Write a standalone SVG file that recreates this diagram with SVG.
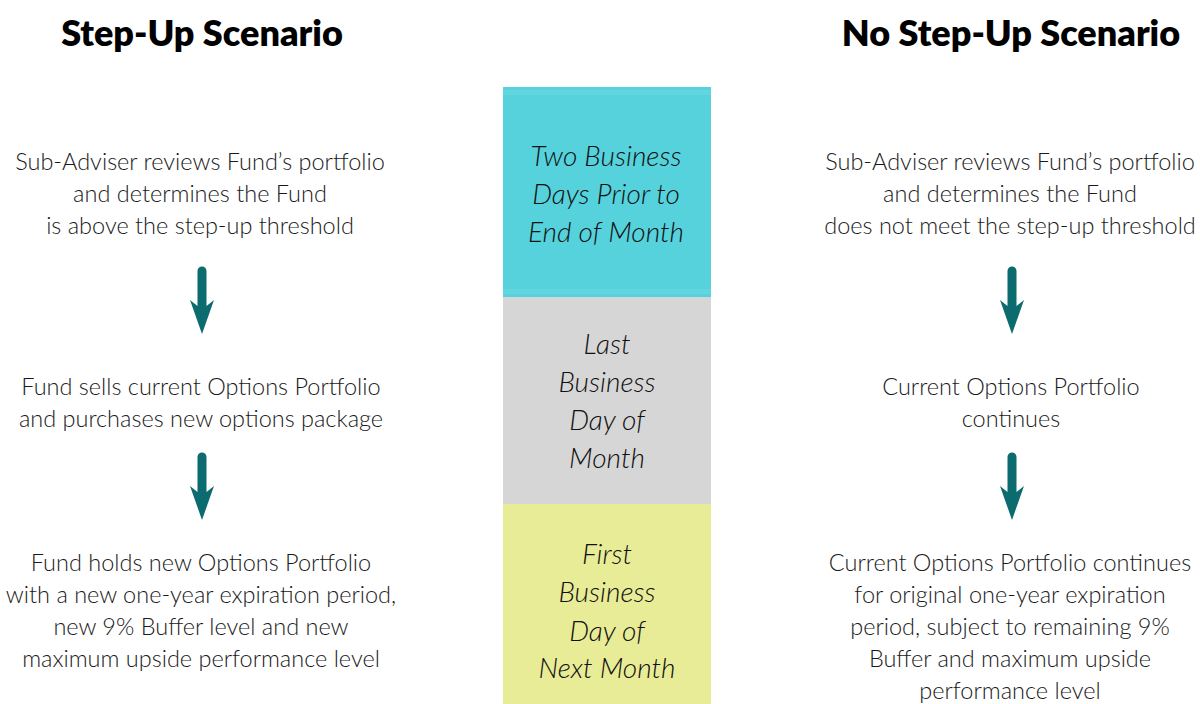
<svg xmlns="http://www.w3.org/2000/svg" width="1200" height="704" viewBox="0 0 1200 704">
<defs>
<style>
.title{font-family:Lato,"Open Sans",sans-serif;font-weight:800;font-size:36px;fill:#000;text-anchor:middle}
.body{font-family:Lato,"Open Sans",sans-serif;font-weight:300;font-size:23.5px;fill:#1a1a1a;text-anchor:middle}
.mid{font-family:Lato,"Open Sans",sans-serif;font-weight:300;font-style:italic;font-size:28px;fill:#111;text-anchor:middle}
.arrow{fill:#0b6b6e}
</style>
<path id="arr" class="arrow" d="M-4.5,4 A4.5,4.5 0 0 1 4.5,4 L4.5,39 L12,33 L0,67 L-12,33 L-4.5,39 Z"/>
</defs>
<rect width="1200" height="704" fill="#fff"/>

<g id="title-left"><text class="title" x="202" y="46">Step-Up Scenario</text></g>
<g id="title-right"><text class="title" x="1011" y="46">No Step-Up Scenario</text></g>

<g id="box-two-days">
<rect x="503" y="87" width="208" height="210" fill="#55d2db"/>
<rect x="503" y="90" width="208" height="5" fill="#62d6df"/>
<rect x="503" y="289" width="208" height="5" fill="#62d6df"/>
<text class="mid" x="606" y="166">Two Business</text>
<text class="mid" x="606" y="204">Days Prior to</text>
<text class="mid" x="606" y="242">End of Month</text>
</g>
<g id="box-last-day">
<rect x="503" y="297" width="208" height="207" fill="#d6d6d6"/>
<text class="mid" x="607" y="354">Last</text>
<text class="mid" x="607" y="392">Business</text>
<text class="mid" x="607" y="430">Day of</text>
<text class="mid" x="607" y="468">Month</text>
</g>
<g id="box-first-day">
<rect x="503" y="504" width="208" height="200" fill="#e8ec96"/>
<text class="mid" x="607" y="564">First</text>
<text class="mid" x="607" y="602">Business</text>
<text class="mid" x="607" y="641">Day of</text>
<text class="mid" x="607" y="678">Next Month</text>
</g>

<g id="left-review">
<text class="body" x="200" y="170">Sub-Adviser reviews Fund’s portfolio</text>
<text class="body" x="200" y="202">and determines the Fund</text>
<text class="body" x="200" y="234">is above the step-up threshold</text>
</g>
<g id="left-sells">
<text class="body" x="201" y="395">Fund sells current Options Portfolio</text>
<text class="body" x="201" y="427">and purchases new options package</text>
</g>
<g id="left-holds">
<text class="body" x="201" y="571">Fund holds new Options Portfolio</text>
<text class="body" x="201" y="603">with a new one-year expiration period,</text>
<text class="body" x="201" y="635">new 9% Buffer level and new</text>
<text class="body" x="201" y="667">maximum upside performance level</text>
</g>

<g id="right-review">
<text class="body" x="1010" y="170">Sub-Adviser reviews Fund’s portfolio</text>
<text class="body" x="1010" y="202">and determines the Fund</text>
<text class="body" x="1010" y="234">does not meet the step-up threshold</text>
</g>
<g id="right-continues">
<text class="body" x="1011" y="395">Current Options Portfolio</text>
<text class="body" x="1011" y="427">continues</text>
</g>
<g id="right-original">
<text class="body" x="1010" y="571">Current Options Portfolio continues</text>
<text class="body" x="1010" y="603">for original one-year expiration</text>
<text class="body" x="1010" y="635">period, subject to remaining 9%</text>
<text class="body" x="1010" y="667">Buffer and maximum upside</text>
<text class="body" x="1010" y="699">performance level</text>
</g>

<g id="connectors">
<use href="#arr" x="202" y="267"/>
<use href="#arr" x="202" y="453"/>
<use href="#arr" x="1012" y="267"/>
<use href="#arr" x="1012" y="453"/>
</g>
</svg>
